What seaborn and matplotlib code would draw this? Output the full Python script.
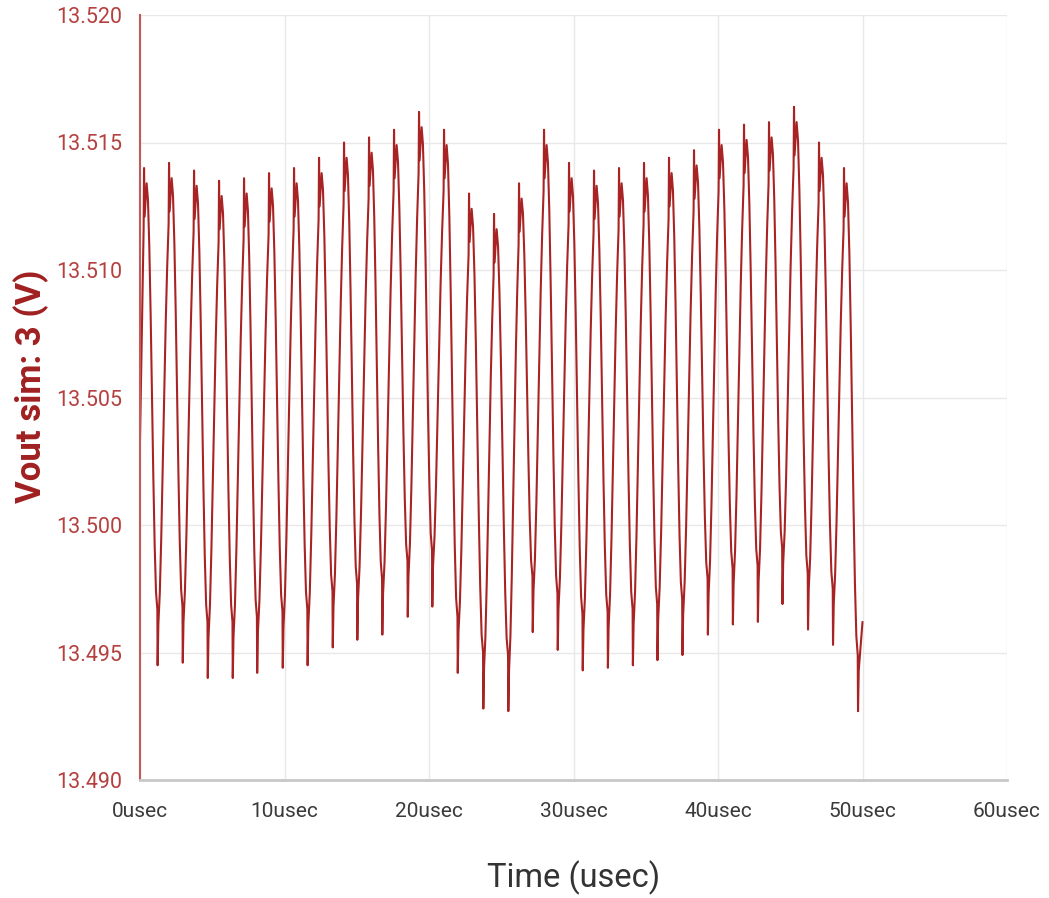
import matplotlib
matplotlib.use('Agg')
import matplotlib.pyplot as plt
import seaborn as sns
import numpy as np
import pandas as pd
from matplotlib.ticker import FormatStrFormatter

# values (time in usec, volts)
start_time = 0.0
start_volt = 13.5033
end_time = 50.0
end_volt = 13.4962

peak_time = [0.28, 2.01, 3.74, 5.47, 7.20, 8.93, 10.66, 12.39, 14.12, 15.85,
             17.58, 19.31, 21.04, 22.77, 24.50, 26.23, 27.96, 29.69, 31.42, 33.15,
             34.88, 36.61, 38.34, 40.07, 41.80, 43.53, 45.26, 46.99, 48.72]
peak_volt = [13.5140, 13.5142, 13.5139, 13.5135, 13.5136, 13.5138, 13.5140, 13.5144,
             13.5150, 13.5152, 13.5155, 13.5162, 13.5155, 13.5130, 13.5122, 13.5134,
             13.5155, 13.5142, 13.5139, 13.5140, 13.5142, 13.5144, 13.5147, 13.5155,
             13.5157, 13.5158, 13.5164, 13.5150, 13.5140]

trough_time = [1.22, 2.96, 4.69, 6.42, 8.11, 9.88, 11.60, 13.34, 15.04, 16.77,
               18.53, 20.23, 21.99, 23.76, 25.49, 27.18, 28.91, 30.64, 32.38, 34.11,
               35.81, 37.54, 39.30, 41.03, 42.76, 44.46, 46.23, 47.96, 49.69]
trough_volt = [13.4945, 13.4946, 13.4940, 13.4940, 13.4942, 13.4944, 13.4945, 13.4952,
               13.4955, 13.4957, 13.4964, 13.4968, 13.4942, 13.4928, 13.4927, 13.4958,
               13.4951, 13.4943, 13.4944, 13.4945, 13.4947, 13.4949, 13.4957, 13.4961,
               13.4962, 13.4969, 13.4959, 13.4953, 13.4927]

# shape of one switching cycle
peak_dt = [-0.03, 0.0, 0.04, 0.18]          # around each peak spike
peak_dv = [-0.0024, 0.0, -0.0019, -0.0006]
trough_dt = [-0.02, 0.0, 0.05]              # around each trough spike
trough_dv = [0.0022, 0.0, 0.0016]
fall_shape = [0.96, 0.85, 0.69, 0.50, 0.31, 0.15, 0.04]
rise_shape = [0.08, 0.22, 0.40, 0.58, 0.75, 0.89]

x_ticks = [0, 10, 20, 30, 40, 50, 60]
x_tick_labels = ['0usec', '10usec', '20usec', '30usec', '40usec', '50usec', '60usec']
y_ticks = [13.490, 13.495, 13.500, 13.505, 13.510, 13.515, 13.520]

trace_color = '#a82424'

# build the vertex table of the trace
rows = [(start_time, start_volt)]
for k in range(len(peak_time)):
    tp, P = peak_time[k], peak_volt[k]
    if k > 0:
        t0, v0 = rows[-1]
        t1, v1 = tp + peak_dt[0], P + peak_dv[0]
        n = len(rise_shape) + 1
        for i, f in enumerate(rise_shape):
            rows.append((t0 + (t1 - t0) * (i + 1) / n, v0 + (v1 - v0) * f))
    for dt, dv in zip(peak_dt, peak_dv):
        rows.append((tp + dt, P + dv))
    tt, T = trough_time[k], trough_volt[k]
    t0, v0 = rows[-1]
    t1, v1 = tt + trough_dt[0], T + trough_dv[0]
    n = len(fall_shape) + 1
    for i, f in enumerate(fall_shape):
        rows.append((t0 + (t1 - t0) * (i + 1) / n, v1 + (v0 - v1) * f))
    for dt, dv in zip(trough_dt, trough_dv):
        rows.append((tt + dt, T + dv))
rows.append((end_time, end_volt))
wave = pd.DataFrame(rows, columns=['time', 'volt'])

sns.set_theme(style='whitegrid')
plt.rcParams['font.family'] = ['Roboto', 'DejaVu Sans']

fig = plt.figure(figsize=(10.49, 8.98), dpi=100)
ax = fig.add_axes([140 / 1049, 118 / 898, 867 / 1049, 765 / 898])

sns.lineplot(data=wave, x='time', y='volt', sort=False, estimator=None,
             color=trace_color, linewidth=1.5, ax=ax)

ax.set_xlim(0, 60)
ax.set_ylim(13.490, 13.520)
ax.set_xticks(x_ticks)
ax.set_xticklabels(x_tick_labels)
ax.set_yticks(y_ticks)
ax.yaxis.set_major_formatter(FormatStrFormatter('%.3f'))

ax.grid(True, color='#e8e8e8', linewidth=1.0)
ax.set_facecolor('white')
for side in ['top', 'right']:
    ax.spines[side].set_visible(False)
ax.spines['bottom'].set_color('#c8c8c8')
ax.spines['bottom'].set_linewidth(2)
ax.spines['left'].set_color('#c25a5a')
ax.spines['left'].set_linewidth(1.5)

ax.tick_params(axis='y', colors='#b5403f', labelsize=15.5, length=0, pad=13)
ax.tick_params(axis='x', colors='#cccccc', labelcolor='#3a3a3a', labelsize=15,
               length=4, width=1, pad=12)

ax.set_xlabel('Time (usec)', fontsize=23.5, color='#333333', labelpad=28)
ax.set_ylabel('Vout sim: 3 (V)', fontsize=25, fontweight='bold', color='#a02020')
ax.yaxis.label.set_va('center')
ax.yaxis.set_label_coords(-0.125, 0.515)

plt.savefig('out.png', dpi=100, facecolor='white')
